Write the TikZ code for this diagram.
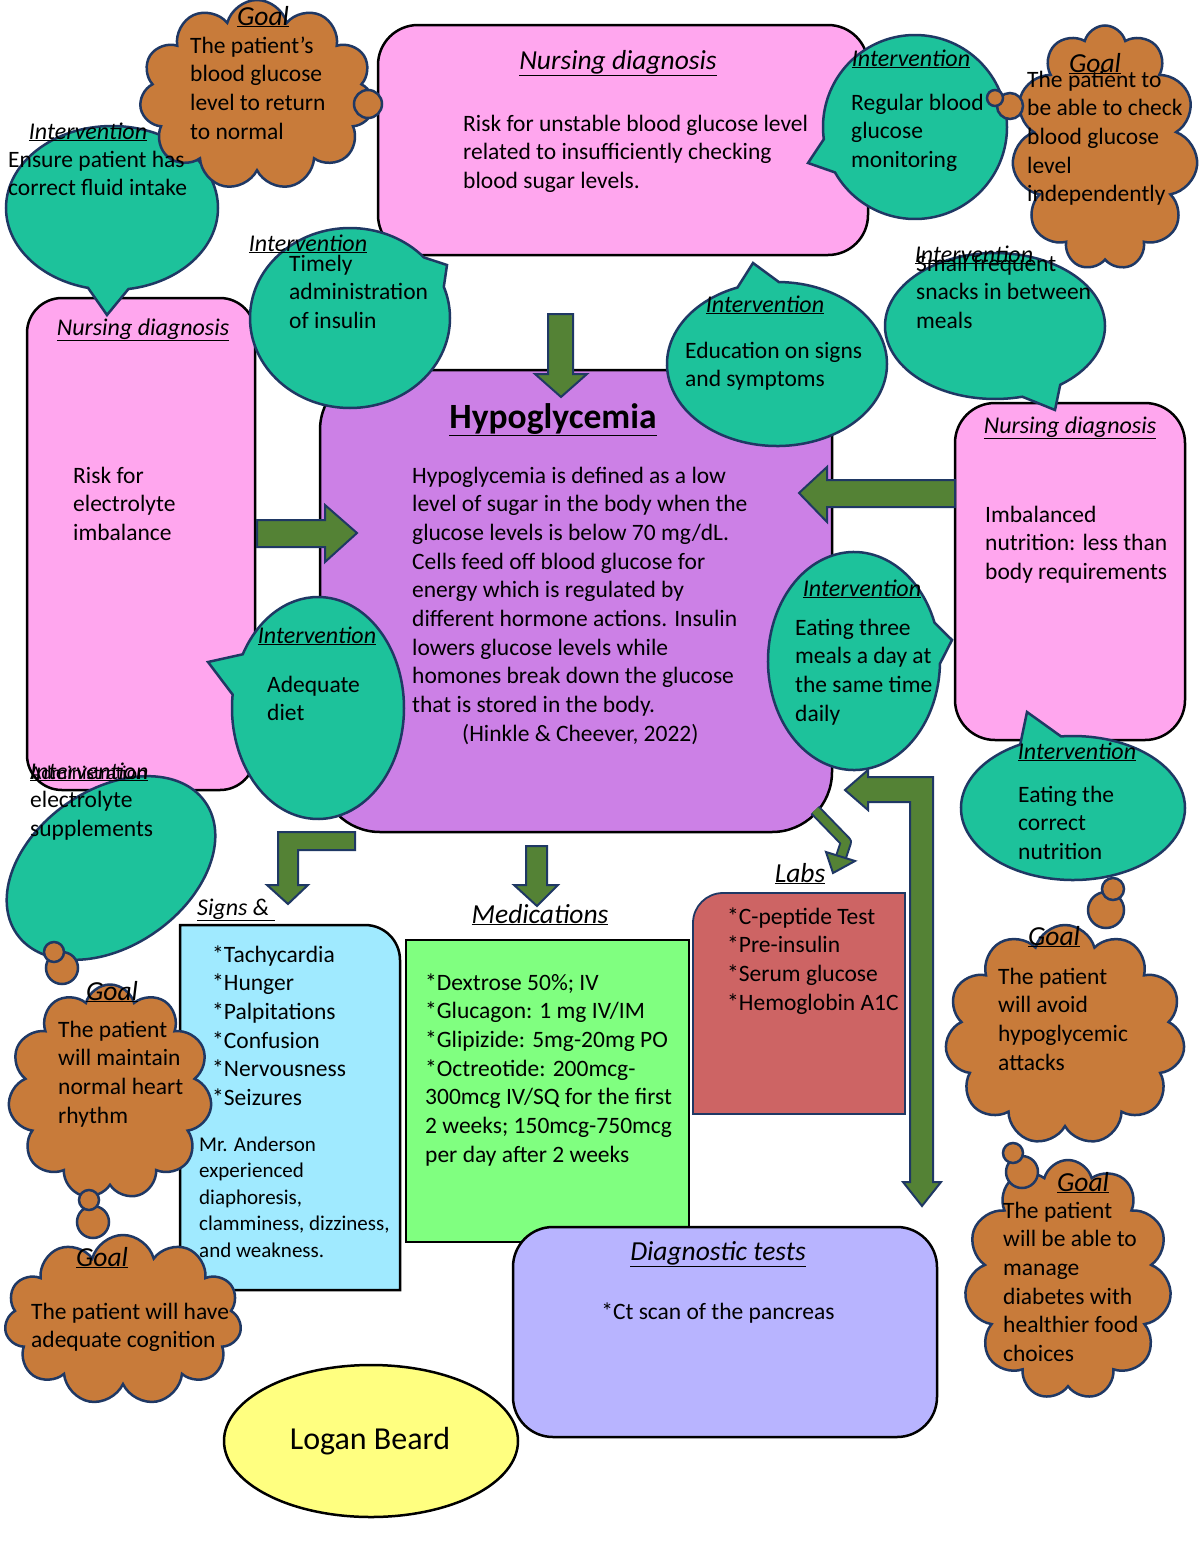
\documentclass[tikz,border=0pt]{standalone}
\usepackage{fontspec}
\setmainfont{Carlito}
\usetikzlibrary{shapes.callouts,shapes.symbols,shapes.geometric}
\definecolor{pinkbox}{HTML}{FFA6EE}
\definecolor{purbox}{HTML}{CC80E6}
\definecolor{tealb}{HTML}{1DC29B}
\definecolor{brownc}{HTML}{C87B3A}
\definecolor{navy}{HTML}{1F3864}
\definecolor{agreen}{HTML}{548235}
\definecolor{lblue}{HTML}{A0EAFF}
\definecolor{lgreen}{HTML}{80FF80}
\definecolor{redbox}{HTML}{CD6464}
\definecolor{lav}{HTML}{B8B4FF}
\definecolor{yel}{HTML}{FFFF80}
\begin{document}
\begin{tikzpicture}[x=1pt,y=-1pt,
  boxst/.style={draw=black, line width=2.5pt, inner sep=0pt},
  bub/.style={ellipse callout, draw=navy, fill=tealb, line width=2.5pt, inner sep=0pt, callout pointer arc=22},
  cl/.style={cloud, cloud puffs=11, cloud ignores aspect, draw=navy, fill=brownc, line width=2.5pt, inner sep=0pt},
  puff/.style={circle, draw=navy, fill=brownc, line width=2.5pt, inner sep=0pt},
  arr/.style={fill=agreen, draw=navy, line width=2pt, line join=miter},
  body/.style={anchor=base west, align=left, inner sep=0pt, font=\fontsize{23.5}{28.7}\selectfont},
  small/.style={anchor=base west, align=left, inner sep=0pt, font=\fontsize{21}{26.5}\selectfont},
  ttl/.style={anchor=base, inner sep=0pt, font=\fontsize{24}{28.7}\selectfont\itshape},
  bigttl/.style={anchor=base, inner sep=0pt, font=\fontsize{27.5}{30}\selectfont\itshape},
  ttlw/.style={anchor=base west, inner sep=0pt, font=\fontsize{24}{28.7}\selectfont\itshape}]
\useasboundingbox (0,0) rectangle (1200,1553);
\fill[white] (0,0) rectangle (1200,1553);

% ---------- boxes ----------
\node[boxst, fill=pinkbox, rounded corners=40pt, minimum width=490pt, minimum height=230pt] (nd1) at (623,140) {};
\node[boxst, fill=pinkbox, rounded corners=35pt, minimum width=228pt, minimum height=492pt] (nd2) at (141,544) {};
\node[boxst, fill=pinkbox, rounded corners=40pt, minimum width=230pt, minimum height=337pt] (nd3) at (1070,571.5) {};
\node[boxst, fill=purbox, rounded corners=60pt, minimum width=512pt, minimum height=462pt] (hypo) at (576,601) {};
\draw[fill=lblue, draw=black, line width=2.5pt] (180,1290) -- (180,925) -- (365,925) arc[start angle=270, end angle=360, radius=35] -- (400,1290) -- cycle;
\node[boxst, fill=lgreen, minimum width=283pt, minimum height=302pt] (meds) at (547.5,1091) {};
\draw[fill=redbox, draw=navy, line width=1.8pt] (693,1114) -- (693,923) arc[start angle=180, end angle=270, radius=30] -- (905,893) -- (905,1114) -- cycle;
\node[boxst, fill=lav, rounded corners=40pt, minimum width=424pt, minimum height=210pt] (diag) at (725,1332) {};
\node[boxst, ellipse, fill=yel, minimum width=294pt, minimum height=152pt] (logan) at (371,1441) {};

% ---------- block arrows ----------
\draw[arr] (548,314) -- (573,314) -- (573,374) -- (587,374) -- (561,397) -- (535,374) -- (548,374) -- cycle;
\draw[arr] (257,520) -- (325,520) -- (325,505) -- (357,533) -- (325,562) -- (325,547) -- (257,547) -- cycle;
\draw[arr] (955,480) -- (827,480) -- (827,467) -- (799,493) -- (827,522) -- (827,507) -- (955,507) -- cycle;
\draw[arr] (355,832) -- (355,850) -- (298,850) -- (298,885) -- (308,885) -- (288,904) -- (267,885) -- (278,885) -- (278,832) -- cycle;
\draw[arr] (526,846) -- (547,846) -- (547,885) -- (558,885) -- (537,906) -- (514,885) -- (526,885) -- cycle;
\draw[arr] (845,790) -- (868,770) -- (868,777) -- (933,777) -- (933,1182) -- (941,1182) -- (922,1206) -- (903,1182) -- (910,1182) -- (910,802) -- (868,802) -- (868,810) -- cycle;
\draw[navy, line width=12pt, line cap=butt, line join=round] (815,810) -- (846,842) -- (841,857);
\draw[agreen, line width=8pt, line cap=butt, line join=round] (815,810) -- (846,842) -- (841,857);
\draw[arr] (826,852) -- (855,861) -- (833,873) -- cycle;

% ---------- intervention bubbles ----------
\node[bub, minimum width=212pt, minimum height=164pt, callout absolute pointer={(107,315)}] (i1) at (112,208) {};
\node[bub, minimum width=200pt, minimum height=180pt, callout absolute pointer={(447,265)}] (i2) at (350,318) {};
\node[bub, minimum width=184pt, minimum height=184pt, callout absolute pointer={(808,163)}] (i3) at (915,127) {};
\node[bub, minimum width=220pt, minimum height=164pt, callout absolute pointer={(753,263)}] (i4) at (777,364) {};
\node[bub, minimum width=220pt, minimum height=146pt, callout absolute pointer={(1055,410)}] (i5) at (995,326) {};
\node[bub, minimum width=172pt, minimum height=222pt, callout absolute pointer={(208,662)}] (i6) at (318,708) {};
\node[bub, minimum width=172pt, minimum height=218pt, callout absolute pointer={(952,640)}] (i7) at (854,661) {};
\node[bub, minimum width=224pt, minimum height=144pt, callout absolute pointer={(1027,712)}] (i8) at (1073,808) {};
\node[ellipse, draw=navy, fill=tealb, line width=2.5pt, inner sep=0pt, rotate=35, minimum width=230pt, minimum height=156pt] (i9) at (111,868) {};

% ---------- goal clouds ----------
\node[cl, minimum width=235pt, minimum height=190pt] (g1) at (257,95) {};
\node[puff, minimum size=28pt] (g1a) at (368,104) {};
\node[cl, minimum width=186pt, minimum height=245pt] (g2) at (1105,148) {};
\node[puff, minimum size=26pt] (g2a) at (1010,106) {};
\node[puff, minimum size=16pt] (g2b) at (995,98) {};
\node[cl, minimum width=240pt, minimum height=220pt] (g3) at (1065,1035) {};
\node[puff, minimum size=36pt] (g3a) at (1106,910) {};
\node[puff, minimum size=22pt] (g3b) at (1113,889) {};
\node[cl, minimum width=207pt, minimum height=240pt] (g4) at (1068,1280) {};
\node[puff, minimum size=32pt] (g4a) at (1022,1172) {};
\node[puff, minimum size=20pt] (g4b) at (1013,1153) {};
\node[cl, minimum width=204pt, minimum height=215pt] (g5) at (110,1092) {};
\node[puff, minimum size=32pt] (g5a) at (62,968) {};
\node[puff, minimum size=20pt] (g5b) at (54,952) {};
\node[cl, minimum width=237pt, minimum height=170pt] (g6) at (123,1320) {};
\node[puff, minimum size=32pt] (g6a) at (93,1222) {};
\node[puff, minimum size=20pt] (g6b) at (89,1200) {};

% ---------- titles ----------
\node[bigttl] (t1) at (618,69) {\underline{Nursing diagnosis}};
\node[ttl] (t2) at (143,335) {\underline{Nursing diagnosis}};
\node[ttl] (t3) at (1070,433) {\underline{Nursing diagnosis}};
\node[anchor=base, inner sep=0pt, font=\fontsize{35.5}{40}\selectfont\bfseries] (th) at (553,428) {\underline{Hypoglycemia}};
\node[ttl] (ti1) at (88,139) {\underline{Intervention}};
\node[ttl] (ti2) at (308,251) {\underline{Intervention}};
\node[ttl] (ti3) at (911,66) {\underline{Intervention}};
\node[ttl] (ti4) at (765,312) {\underline{Intervention}};
\node[ttl] (ti5) at (974,262) {\underline{Intervention}};
\node[ttl] (ti6) at (317,643) {\underline{Intervention}};
\node[ttl] (ti7) at (862,596) {\underline{Intervention}};
\node[ttl] (ti8) at (1077,759) {\underline{Intervention}};
\node[ttlw] (ti9) at (30,779) {\underline{Intervention}};
\node[bigttl] (tg1) at (263,25) {\underline{Goal}};
\node[bigttl] (tg2) at (1095,72) {\underline{Goal}};
\node[bigttl] (tg3) at (1054,945) {\underline{Goal}};
\node[bigttl] (tg4) at (1083,1191) {\underline{Goal}};
\node[bigttl] (tg5) at (112,1000) {\underline{Goal}};
\node[bigttl] (tg6) at (102,1266) {\underline{Goal}};
\node[ttlw] (tsig) at (197,915) {\underline{Signs \& }};
\node[bigttl] (tmed) at (540,923) {\underline{Medications}};
\node[bigttl] (tlab) at (800,882) {\underline{Labs}};
\node[bigttl] (tdia) at (718,1260) {\underline{Diagnostic tests}};

% ---------- body texts (anchor = baseline of last line) ----------
\node[body] (x1) at (463,188.4) {Risk for unstable blood glucose level\\related to insufficiently checking\\blood sugar levels.};
\node[body] (x2) at (73,540.4) {Risk for\\electrolyte\\imbalance};
\node[body] (x3) at (985,579.4) {Imbalanced\\nutrition: less than\\body requirements};
\node[body] (xh) at (412,712.6) {Hypoglycemia is defined as a low\\level of sugar in the body when the\\glucose levels is below 70 mg/dL.\\Cells feed off blood glucose for\\energy which is regulated by\\different hormone actions. Insulin\\lowers glucose levels while\\homones break down the glucose\\that is stored in the body.};
\node[body] (xc) at (462,741) {(Hinkle \& Cheever, 2022)};
\node[body] (xi1) at (8,195.7) {Ensure patient has\\correct fluid intake};
\node[body] (xi2) at (289,328.4) {Timely\\administration\\of insulin};
\node[body] (xi3) at (851,167.4) {Regular blood\\glucose\\monitoring};
\node[body] (xi4) at (685,386.7) {Education on signs\\and symptoms};
\node[body] (xi5) at (916,328.4) {Small frequent\\snacks in between\\meals};
\node[body] (xi6) at (267,720.7) {Adequate\\diet};
\node[body] (xi7) at (795,721.1) {Eating three\\meals a day at\\the same time\\daily};
\node[body] (xi8) at (1018,859.4) {Eating the\\correct\\nutrition};
\node[body] (xi9) at (30,836.4) {{\fontsize{19.5}{28.7}\selectfont Administration}\\electrolyte\\supplements};
\node[body] (xg1) at (190,139.1) {The patient’s\\blood glucose\\level to return\\to normal};
\node[body] (xg2) at (1027,201.8) {The patient to\\be able to check\\blood glucose\\level\\independently};
\node[body] (xg3) at (998,1070.1) {The patient\\will avoid\\hypoglycemic\\attacks};
\node[body] (xg4) at (1003,1361.5) {The patient\\will be able to\\manage\\diabetes with\\healthier food\\choices};
\node[body] (xg5) at (58,1123.1) {The patient\\will maintain\\normal heart\\rhythm};
\node[body] (xg6) at (31,1347.7) {The patient will have\\adequate cognition};
\node[body] (xs) at (212,1105.5) {*Tachycardia\\*Hunger\\*Palpitations\\*Confusion\\*Nervousness\\*Seizures};
\node[small] (xs2) at (199,1257) {Mr. Anderson\\experienced\\diaphoresis,\\clamminess, dizziness,\\and weakness.};
\node[body] (xm) at (425,1162.2) {*Dextrose 50\%; IV\\*Glucagon: 1 mg IV/IM\\*Glipizide: 5mg-20mg PO\\*Octreotide: 200mcg-\\300mcg IV/SQ for the first\\2 weeks; 150mcg-750mcg\\per day after 2 weeks};
\node[body] (xl) at (727,1010.1) {*C-peptide Test\\*Pre-insulin\\*Serum glucose\\*Hemoglobin A1C};
\node[anchor=base, inner sep=0pt, font=\fontsize{23.5}{28.7}\selectfont] (xd) at (718,1319) {*Ct scan of the pancreas};
\node[anchor=center, inner sep=0pt, font=\fontsize{32}{36}\selectfont] (xlb) at (370,1441) {Logan Beard};
\end{tikzpicture}
\end{document}
